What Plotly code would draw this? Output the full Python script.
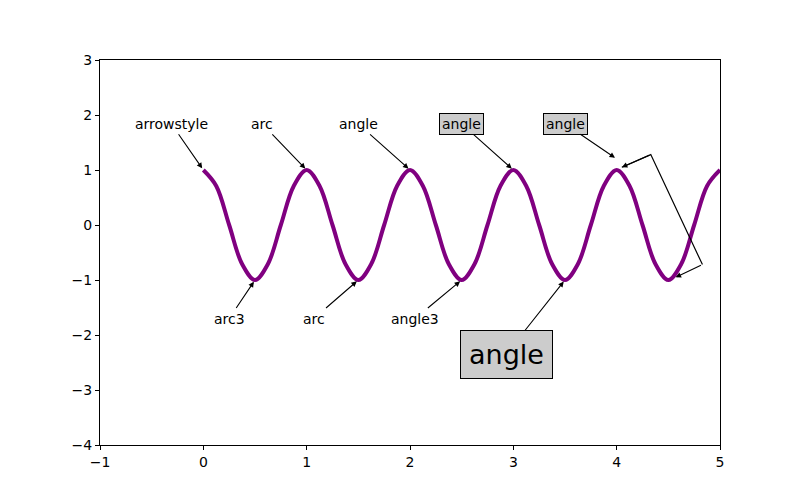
import plotly.graph_objects as go

# curve points (peaks, troughs, crossings, midpoints)
x_vals = [0, 0.125, 0.25, 0.375, 0.5, 0.625, 0.75, 0.875, 1, 1.125, 1.25, 1.375, 1.5, 1.625, 1.75, 1.875,
          2, 2.125, 2.25, 2.375, 2.5, 2.625, 2.75, 2.875, 3, 3.125, 3.25, 3.375, 3.5, 3.625, 3.75, 3.875,
          4, 4.125, 4.25, 4.375, 4.5, 4.625, 4.75, 4.875, 5]
y_vals = [1, 0.71, 0, -0.71, -1, -0.71, 0, 0.71, 1, 0.71, 0, -0.71, -1, -0.71, 0, 0.71,
          1, 0.71, 0, -0.71, -1, -0.71, 0, 0.71, 1, 0.71, 0, -0.71, -1, -0.71, 0, 0.71,
          1, 0.71, 0, -0.71, -1, -0.71, 0, 0.71, 1]

labels = ["arrowstyle", "arc", "angle", "angle", "angle", "arc3", "arc", "angle3", "angle"]
text_x = [-0.31, 0.57, 1.5, 2.5, 3.5, 0.25, 1.07, 2.05, 2.93]
text_y = [1.84, 1.84, 1.84, 1.84, 1.84, -1.7, -1.7, -1.7, -2.35]
tip_x = [0, 1, 2, 3, 4, 0.5, 1.5, 2.5, 3.5]
tip_y = [1, 1, 1, 1, 1.2, -1, -1, -1, -1]
boxed = [False, False, False, True, True, False, False, False, True]
sizes = [14, 14, 14, 14, 14, 14, 14, 14, 27]

bracket_x = [4.05, 4.33, 4.83, 4.57]
bracket_y = [1.05, 1.28, -0.72, -0.95]

fig = go.Figure()
fig.add_trace(go.Scatter(x=x_vals, y=y_vals, mode="lines", line=dict(color="purple", width=4, shape="spline", smoothing=1), hoverinfo="skip"))
fig.add_trace(go.Scatter(x=bracket_x[:3], y=bracket_y[:3], mode="lines", line=dict(color="black", width=1.2), hoverinfo="skip"))

for i, t in enumerate(labels):
    fig.add_annotation(x=tip_x[i], y=tip_y[i], ax=text_x[i], ay=text_y[i], xref="x", yref="y", axref="x", ayref="y",
                       text=t, showarrow=True, arrowhead=2, arrowsize=1, arrowwidth=1.1, arrowcolor="black",
                       font=dict(size=sizes[i], color="black", family="DejaVu Sans"),
                       bgcolor="#cccccc" if boxed[i] else "rgba(0,0,0,0)",
                       bordercolor="black" if boxed[i] else "rgba(0,0,0,0)", borderwidth=1,
                       borderpad=8 if sizes[i] > 20 else 2, standoff=2)
fig.add_annotation(x=bracket_x[0], y=bracket_y[0], ax=bracket_x[1], ay=bracket_y[1], xref="x", yref="y", axref="x", ayref="y",
                   text="", showarrow=True, arrowhead=2, arrowwidth=1.1, arrowcolor="black")
fig.add_annotation(x=bracket_x[3], y=bracket_y[3], ax=bracket_x[2], ay=bracket_y[2], xref="x", yref="y", axref="x", ayref="y",
                   text="", showarrow=True, arrowhead=2, arrowwidth=1.1, arrowcolor="black")

ax_style = dict(showgrid=False, zeroline=False, showline=True, linecolor="black", mirror=True, ticks="outside",
                ticklen=4, tickcolor="black", tickfont=dict(size=14, color="black", family="DejaVu Sans"))
fig.update_layout(width=800, height=500, margin=dict(l=92, r=88, t=52, b=63), showlegend=False,
                  plot_bgcolor="white", paper_bgcolor="white",
                  xaxis=dict(range=[-1, 5], dtick=1, **ax_style),
                  yaxis=dict(range=[-4, 3], dtick=1, **ax_style))
fig.write_html("out.html")
